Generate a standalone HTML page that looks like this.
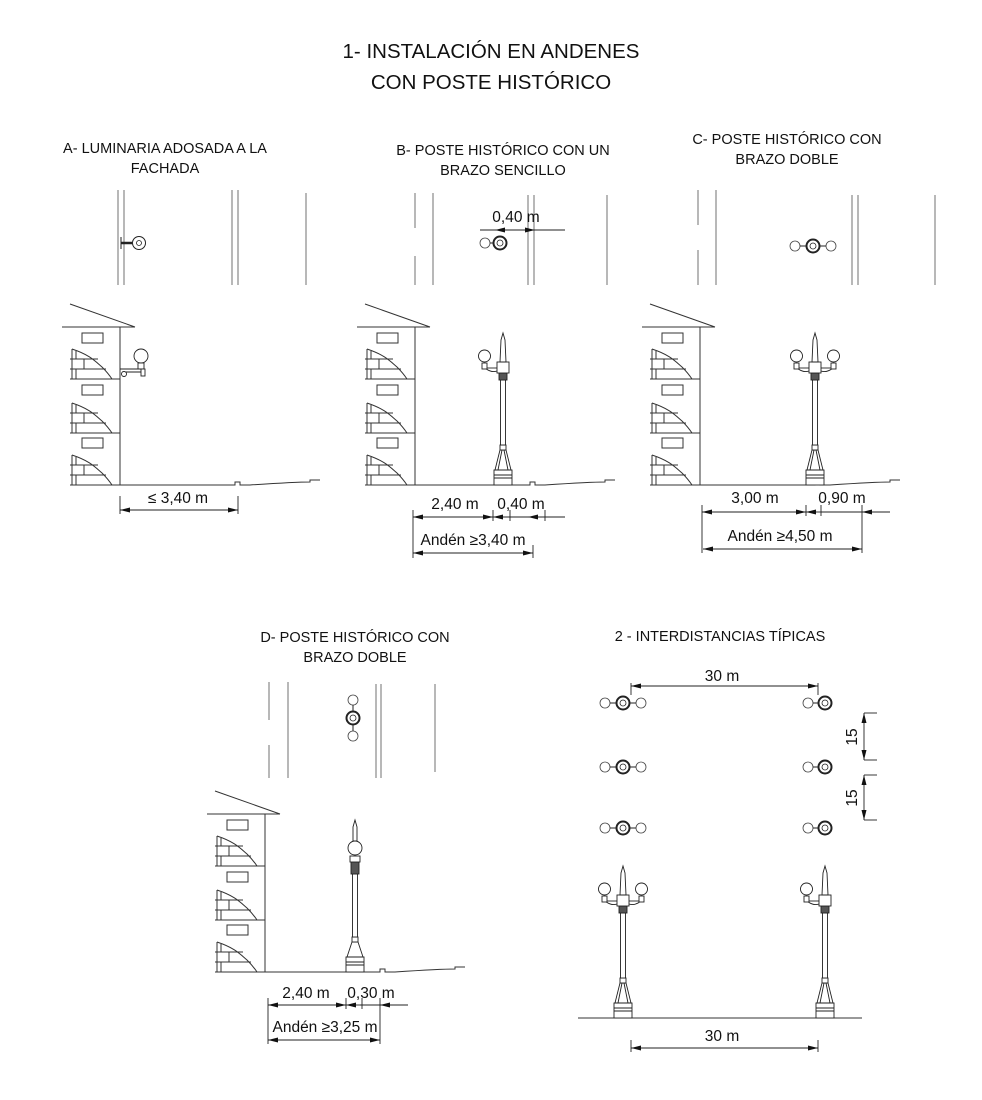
<!DOCTYPE html>
<html><head><meta charset="utf-8"><style>
html,body{margin:0;padding:0;background:#fff}
svg{display:block}
text{font-family:"Liberation Sans",sans-serif;fill:#111}
</style></head><body>
<svg width="982" height="1100" viewBox="0 0 982 1100" xmlns="http://www.w3.org/2000/svg">
<defs>
<marker id="ar" viewBox="0 0 10 6" refX="10" refY="3" markerWidth="10" markerHeight="6" orient="auto-start-reverse" markerUnits="userSpaceOnUse"><path d="M0,0.5 L10,3 L0,5.5 Z" fill="#111"/></marker>
<g id="bld" fill="none" stroke="#333" stroke-width="1">
<line x1="-50" y1="-181" x2="15" y2="-158"/>
<line x1="-58" y1="-158" x2="15" y2="-158"/>
<line x1="0" y1="-158" x2="0" y2="0"/>
<rect x="-38" y="-152" width="21" height="10"/>
<rect x="-38" y="-100" width="21" height="10"/>
<rect x="-38" y="-47" width="21" height="10"/>
<line x1="-50" y1="-106" x2="0" y2="-106"/>
<line x1="-50" y1="-52" x2="0" y2="-52"/>
<g id="brk">
<path d="M-48,-30 C-30,-24 -25,-18 -18,-12 C-14,-8 -12,-6 -8,0"/>
<line x1="-50" y1="-10" x2="-14" y2="-10"/>
<line x1="-50" y1="-20" x2="-22" y2="-20"/>
<line x1="-36" y1="-20" x2="-36" y2="-10"/>
<line x1="-44" y1="-28" x2="-44" y2="-20"/>
<line x1="-44" y1="-10" x2="-44" y2="0"/>
<line x1="-48" y1="-30" x2="-48" y2="0"/>
</g>
<use href="#brk" transform="translate(0,-52)"/>
<use href="#brk" transform="translate(0,-106)"/>
</g>
<g id="gnd" fill="none" stroke="#333" stroke-width="1">
<path d="M-50,0 H115 v-3 h5 v3 H130 C160,-2 180,-3 190,-3 v-2 h10"/>
</g>
<g id="pole" fill="#fff" stroke="#222" stroke-width="0.9">
<rect x="-9" y="-15" width="18" height="15"/>
<line x1="-9" y1="-10" x2="9" y2="-10"/><line x1="-9" y1="-7" x2="9" y2="-7"/>
<path d="M-8,-15 L-3,-35 L3,-35 L8,-15 Z"/>
<line x1="-5" y1="-15" x2="-1" y2="-35"/><line x1="5" y1="-15" x2="1" y2="-35"/>
<rect x="-3" y="-40" width="6" height="5"/>
<rect x="-2.5" y="-105" width="5" height="65"/>
<rect x="-4" y="-112" width="8" height="7" fill="#555"/>
<rect x="-6" y="-123" width="12" height="11"/>
<path d="M-3,-123 L-2,-145 L0,-152 L2,-145 L3,-123 Z"/>
</g>
<g id="armL" fill="#fff" stroke="#222" stroke-width="0.9">
<line x1="-20" y1="-117" x2="-6" y2="-117"/>
<path d="M-18,-117 Q-12,-112 -6,-114" fill="none"/>
<rect x="-21" y="-122" width="5" height="6"/>
<circle cx="-18.5" cy="-129" r="6"/>
</g>
<g id="pl" fill="#fff" stroke="#222">
<circle r="6.5" stroke-width="2"/><circle r="3" stroke-width="0.8"/>
</g>
<g id="gl" fill="#fff" stroke="#444" stroke-width="0.8"><circle r="5"/></g>
</defs>

<text x="491" y="58" font-size="20.5" text-anchor="middle">1- INSTALACIÓN EN ANDENES</text>
<text x="491" y="89" font-size="20.5" text-anchor="middle">CON POSTE HISTÓRICO</text>

<g font-size="14.5" text-anchor="middle">
<text x="165" y="153">A- LUMINARIA ADOSADA A LA</text>
<text x="165" y="173">FACHADA</text>
<text x="503" y="155">B- POSTE HISTÓRICO CON UN</text>
<text x="503" y="175">BRAZO SENCILLO</text>
<text x="787" y="144">C- POSTE HISTÓRICO CON</text>
<text x="787" y="164">BRAZO DOBLE</text>
<text x="355" y="642">D- POSTE HISTÓRICO CON</text>
<text x="355" y="662">BRAZO DOBLE</text>
<text x="720" y="641">2 - INTERDISTANCIAS TÍPICAS</text>
</g>

<!-- road lines -->
<g stroke="#888" stroke-width="1.2">
<line x1="118" y1="190" x2="118" y2="285"/><line x1="124" y1="190" x2="124" y2="285"/>
<line x1="232" y1="190" x2="232" y2="285"/><line x1="238" y1="190" x2="238" y2="285"/><line x1="306" y1="193" x2="306" y2="285"/>
<line x1="415" y1="193" x2="415" y2="228"/><line x1="415" y1="256" x2="415" y2="285"/><line x1="433" y1="193" x2="433" y2="285"/>
<line x1="528" y1="195" x2="528" y2="285"/><line x1="534" y1="195" x2="534" y2="285"/><line x1="607" y1="195" x2="607" y2="285"/>
<line x1="698" y1="190" x2="698" y2="225"/><line x1="698" y1="250" x2="698" y2="285"/><line x1="716" y1="190" x2="716" y2="285"/>
<line x1="852" y1="195" x2="852" y2="285"/><line x1="858" y1="195" x2="858" y2="285"/><line x1="935" y1="195" x2="935" y2="285"/>
<line x1="269" y1="682" x2="269" y2="720"/><line x1="269" y1="745" x2="269" y2="778"/><line x1="288" y1="682" x2="288" y2="778"/>
<line x1="376" y1="684" x2="376" y2="778"/><line x1="381" y1="684" x2="381" y2="778"/><line x1="435" y1="684" x2="435" y2="772"/>
</g>

<!-- plan symbols -->
<g transform="translate(139,243)" fill="#fff" stroke="#222"><circle r="6.5" stroke-width="1"/><circle r="2.5" stroke-width="0.8"/></g>
<line x1="121" y1="243" x2="132" y2="243" stroke="#222" stroke-width="2.5"/>
<line x1="121" y1="237" x2="121" y2="249" stroke="#222"/>
<use href="#gl" x="485" y="243"/><line x1="490" y1="243" x2="494" y2="243" stroke="#222"/><use href="#pl" x="500" y="243"/>
<use href="#gl" x="795" y="246"/><use href="#gl" x="831" y="246"/><line x1="800" y1="246" x2="826" y2="246" stroke="#222"/><use href="#pl" x="813" y="246"/>
<use href="#gl" x="353" y="700"/><use href="#gl" x="353" y="736"/><line x1="353" y1="705" x2="353" y2="731" stroke="#222"/><use href="#pl" x="353" y="718"/>
<g id="dbl"><use href="#gl" x="605" y="703"/><use href="#gl" x="641" y="703"/><line x1="610" y1="703" x2="636" y2="703" stroke="#222"/><use href="#pl" x="623" y="703"/></g>
<use href="#dbl" y="64"/><use href="#dbl" y="125"/>
<g id="sgl"><use href="#gl" x="808" y="703"/><line x1="813" y1="703" x2="818" y2="703" stroke="#222"/><use href="#pl" x="825" y="703"/></g>
<use href="#sgl" y="64"/><use href="#sgl" y="125"/>

<!-- buildings -->
<use href="#bld" x="120" y="485"/><use href="#gnd" x="120" y="485"/>
<use href="#bld" x="415" y="485"/><use href="#gnd" x="415" y="485"/>
<use href="#bld" x="700" y="485"/><use href="#gnd" x="700" y="485"/>
<use href="#bld" x="265" y="972"/><use href="#gnd" x="265" y="972"/>

<!-- A wall lamp -->
<g fill="#fff" stroke="#222" stroke-width="0.9">
<circle cx="141" cy="356" r="7"/>
<rect x="138" y="363" width="6" height="6"/>
<line x1="120" y1="369" x2="144" y2="369"/>
<line x1="122" y1="372" x2="144" y2="372"/>
<circle cx="124" cy="374" r="2.5"/>
<rect x="141" y="369" width="4" height="7"/>
</g>

<!-- B pole -->
<g transform="translate(503,485)"><use href="#pole"/><use href="#armL"/></g>
<!-- C pole -->
<g transform="translate(815,485)"><use href="#pole"/><use href="#armL"/><use href="#armL" transform="scale(-1,1)"/></g>
<!-- D pole -->
<g transform="translate(355,972)" fill="#fff" stroke="#222" stroke-width="0.9">
<rect x="-9" y="-15" width="18" height="15"/><line x1="-9" y1="-10" x2="9" y2="-10"/><line x1="-9" y1="-7" x2="9" y2="-7"/>
<path d="M-8,-15 L-3,-30 L3,-30 L8,-15 Z"/><rect x="-3" y="-35" width="6" height="5"/>
<rect x="-2.5" y="-98" width="5" height="63"/>
<rect x="-4" y="-110" width="8" height="12" fill="#555"/>
<rect x="-5" y="-116" width="10" height="6"/>
<circle cx="0" cy="-124" r="7"/>
<path d="M-2,-131 L-2,-145 L0,-152 L2,-145 L2,-131 Z"/>
</g>
<!-- section 2 elevations -->
<line x1="578" y1="1018" x2="862" y2="1018" stroke="#333"/>
<g transform="translate(623,1018)"><use href="#pole"/><use href="#armL"/><use href="#armL" transform="scale(-1,1)"/></g>
<g transform="translate(825,1018)"><use href="#pole"/><use href="#armL"/></g>

<!-- dimensions -->
<g stroke="#222" stroke-width="0.9" fill="none">
<line x1="120" y1="510" x2="238" y2="510" marker-start="url(#ar)" marker-end="url(#ar)"/>
<line x1="120" y1="496" x2="120" y2="514"/><line x1="238" y1="496" x2="238" y2="514"/>

<line x1="413" y1="517" x2="493" y2="517" marker-start="url(#ar)" marker-end="url(#ar)"/>
<line x1="493" y1="517" x2="510" y2="517" marker-start="url(#ar)"/>
<line x1="510" y1="517" x2="565" y2="517"/>
<line x1="528" y1="517" x2="545" y2="517" marker-start="url(#ar)"/>
<line x1="413" y1="510" x2="413" y2="558"/><line x1="493" y1="510" x2="493" y2="521"/><line x1="510" y1="510" x2="510" y2="521"/><line x1="545" y1="510" x2="545" y2="521"/>
<line x1="413" y1="553" x2="533" y2="553" marker-start="url(#ar)" marker-end="url(#ar)"/><line x1="533" y1="545" x2="533" y2="558"/>
<line x1="480" y1="230" x2="565" y2="230"/>
<line x1="495" y1="230" x2="510" y2="230" marker-start="url(#ar)"/>
<line x1="520" y1="230" x2="535" y2="230" marker-end="url(#ar)"/>

<line x1="702" y1="512" x2="806" y2="512" marker-start="url(#ar)" marker-end="url(#ar)"/>
<line x1="806" y1="512" x2="821" y2="512" marker-start="url(#ar)"/>
<line x1="821" y1="512" x2="890" y2="512"/>
<line x1="862" y1="512" x2="875" y2="512" marker-start="url(#ar)"/>
<line x1="702" y1="505" x2="702" y2="553"/><line x1="806" y1="505" x2="806" y2="516"/><line x1="821" y1="505" x2="821" y2="516"/><line x1="862" y1="505" x2="862" y2="553"/>
<line x1="703" y1="549" x2="862" y2="549" marker-start="url(#ar)" marker-end="url(#ar)"/>

<line x1="268" y1="1005" x2="346" y2="1005" marker-start="url(#ar)" marker-end="url(#ar)"/>
<line x1="346" y1="1005" x2="360" y2="1005" marker-start="url(#ar)"/>
<line x1="360" y1="1005" x2="408" y2="1005"/>
<line x1="380" y1="1005" x2="392" y2="1005" marker-start="url(#ar)"/>
<line x1="268" y1="998" x2="268" y2="1044"/><line x1="346" y1="998" x2="346" y2="1009"/><line x1="362" y1="998" x2="362" y2="1009"/><line x1="380" y1="998" x2="380" y2="1044"/>
<line x1="268" y1="1040" x2="380" y2="1040" marker-start="url(#ar)" marker-end="url(#ar)"/>

<line x1="631" y1="686" x2="818" y2="686" marker-start="url(#ar)" marker-end="url(#ar)"/>
<line x1="631" y1="683" x2="631" y2="695"/><line x1="818" y1="683" x2="818" y2="695"/>
<line x1="631" y1="1048" x2="818" y2="1048" marker-start="url(#ar)" marker-end="url(#ar)"/>
<line x1="631" y1="1040" x2="631" y2="1052"/><line x1="818" y1="1040" x2="818" y2="1052"/>

<line x1="864" y1="713" x2="864" y2="760" marker-start="url(#ar)" marker-end="url(#ar)"/>
<line x1="864" y1="713" x2="877" y2="713"/><line x1="864" y1="760" x2="877" y2="760"/>
<line x1="864" y1="775" x2="864" y2="820" marker-start="url(#ar)" marker-end="url(#ar)"/>
<line x1="864" y1="775" x2="877" y2="775"/><line x1="864" y1="820" x2="877" y2="820"/>
</g>

<g font-size="15.5" text-anchor="middle">
<text x="178" y="503">≤ 3,40 m</text>
<text x="516" y="222">0,40 m</text>
<text x="455" y="509">2,40 m</text>
<text x="521" y="509">0,40 m</text>
<text x="473" y="545">Andén ≥3,40 m</text>
<text x="755" y="503">3,00 m</text>
<text x="842" y="503">0,90 m</text>
<text x="780" y="541">Andén ≥4,50 m</text>
<text x="306" y="998">2,40 m</text>
<text x="371" y="998">0,30 m</text>
<text x="325" y="1032">Andén ≥3,25 m</text>
<text x="722" y="681">30 m</text>
<text x="722" y="1041">30 m</text>
<text transform="translate(857,737) rotate(-90)">15</text>
<text transform="translate(857,798) rotate(-90)">15</text>
</g>
</svg>
</body></html>
